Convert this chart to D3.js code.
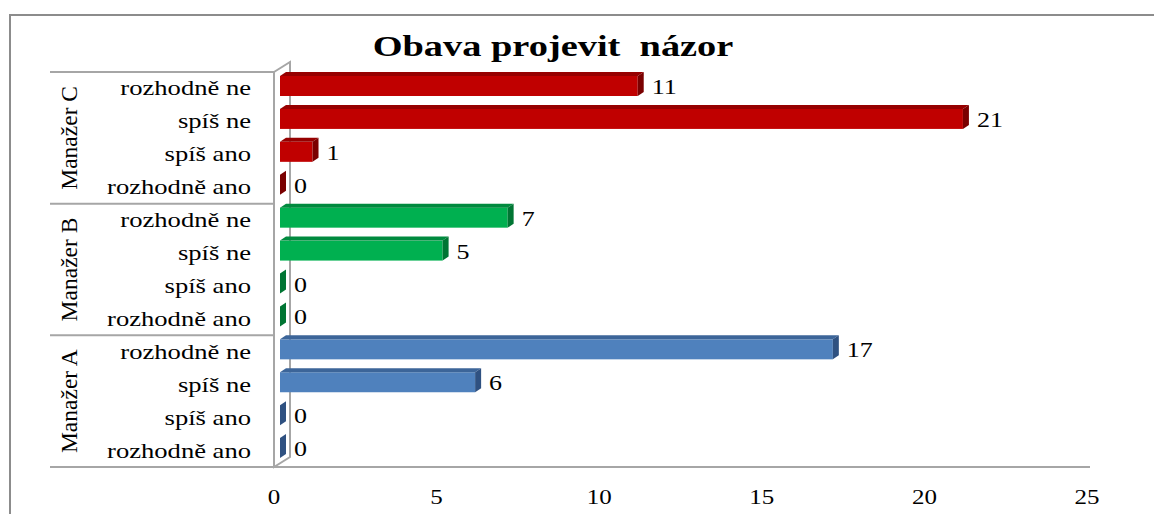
<!DOCTYPE html>
<html>
<head>
<meta charset="utf-8">
<script src="https://cdn.jsdelivr.net/npm/d3@7"></script>
<style>
  html, body { margin: 0; padding: 0; background: #fff; }
  svg { display: block; }
  text { font-family: "Liberation Serif", "Times New Roman", serif; fill: #000; }
</style>
</head>
<body>
<script>
// ---- data ----
const title = "Obava projevit\u00a0 názor";
const groups = ["Manažer A", "Manažer B", "Manažer C"];
const categories = ["rozhodně ano", "spíš ano", "spíš ne", "rozhodně ne"];
const valuesA = [0, 0, 6, 17];
const valuesB = [0, 0, 5, 7];
const valuesC = [0, 1, 21, 11];
const xTicks = [0, 5, 10, 15, 20, 25];

const groupValues = [valuesA, valuesB, valuesC];
const colors = [
  { front: "#4F81BD", top: "#3C6599", side: "#2F5181" },
  { front: "#00B050", top: "#008A3E", side: "#007533" },
  { front: "#C00000", top: "#960000", side: "#7A0000" }
];

const rows = [];
groups.forEach((g, gi) => {
  categories.forEach((c, ci) => {
    rows.push({ key: g + "|" + c, group: g, gi, cat: c, value: groupValues[gi][ci] });
  });
});

const W = 1154, H = 514;
const svg = d3.select("body").append("svg").attr("width", W).attr("height", H);

// outer border
svg.append("rect").attr("x", 10).attr("y", 15).attr("width", W + 20).attr("height", H + 20)
  .attr("fill", "none").attr("stroke", "#8c8c8c").attr("stroke-width", 2);

const plotTop = 72, plotBottom = 467;
const x = d3.scaleLinear().domain([0, 25]).range([274, 1087]);
const y = d3.scaleBand().domain(rows.map(r => r.key)).range([plotBottom, plotTop]).padding(0);

const dx = 6, dy = 4; // bar depth
const wallDx = 16, wallDy = 10;

// title
svg.append("text").attr("transform", "translate(553,56) scale(1.28,1)").attr("text-anchor", "middle")
  .style("font-size", "30px").style("font-weight", "bold").text(title);

// wall
const x0 = x(0);
svg.append("path")
  .attr("d", `M${x0},${plotTop} L${x0 + wallDx},${plotTop - wallDy} L${x0 + wallDx},${plotBottom - wallDy} L${x0},${plotBottom} Z`)
  .attr("fill", "#fff").attr("stroke", "#a6a6a6").attr("stroke-width", 2);

// floor front line
svg.append("line").attr("x1", x0).attr("x2", 1090).attr("y1", plotBottom).attr("y2", plotBottom)
  .attr("stroke", "#a6a6a6").attr("stroke-width", 2);

// category table lines
const gBounds = groups.map((g, gi) => {
  const keys = rows.filter(r => r.gi === gi).map(r => r.key);
  const ys = keys.map(k => y(k));
  return { top: d3.min(ys), bottom: d3.max(ys) + y.bandwidth(), g };
});
const sepYs = [plotTop, ...gBounds.map(b => b.bottom)];
svg.selectAll("line.sep").data(sepYs).enter().append("line")
  .attr("x1", 50).attr("x2", x0).attr("y1", d => d).attr("y2", d => d)
  .attr("stroke", "#a6a6a6").attr("stroke-width", 2);

// category labels
svg.selectAll("text.cat").data(rows).enter().append("text")
  .attr("transform", d => `translate(251,${y(d.key) + y.bandwidth() / 2 + 7}) scale(1.33,1)`)
  .attr("text-anchor", "end").style("font-size", "20px").text(d => d.cat);

// group labels
svg.selectAll("text.grp").data(gBounds).enter().append("text")
  .attr("transform", d => `translate(77,${(d.top + d.bottom) / 2}) rotate(-90)`)
  .attr("text-anchor", "middle").style("font-size", "23.5px").text(d => d.g);

// bars
const barG = svg.append("g");
rows.forEach(r => {
  const c = colors[r.gi];
  const t = y(r.key);
  const fy0 = t + dy, fy1 = t + dy + 20;
  const bx0 = x(0) + 6, bx1 = x(r.value) + 6;
  if (r.value > 0) {
    barG.append("rect").attr("x", bx0).attr("y", fy0).attr("width", bx1 - bx0).attr("height", fy1 - fy0)
      .attr("fill", c.front);
    barG.append("path")
      .attr("d", `M${bx0},${fy0} L${bx0 + dx},${fy0 - dy} L${bx1 + dx},${fy0 - dy} L${bx1},${fy0} Z`)
      .attr("fill", c.top);
  }
  barG.append("path")
    .attr("d", `M${bx1},${fy0} L${bx1 + dx},${fy0 - dy} L${bx1 + dx},${fy1 - dy} L${bx1},${fy1} Z`)
    .attr("fill", c.side);
});

// value labels
svg.selectAll("text.val").data(rows).enter().append("text")
  .attr("transform", d => `translate(${x(d.value) + 20},${y(d.key) + 22}) scale(1.3,1)`)
  .style("font-size", "20px").text(d => d.value);

// x axis tick labels
svg.selectAll("text.tick").data(xTicks).enter().append("text")
  .attr("transform", d => `translate(${x(d)},504) scale(1.25,1)`).attr("text-anchor", "middle")
  .style("font-size", "20px").text(d => d);
</script>
</body>
</html>
